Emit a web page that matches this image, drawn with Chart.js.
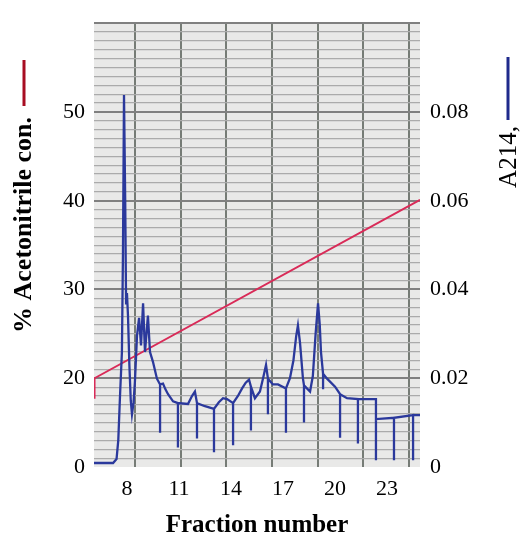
<!DOCTYPE html>
<html>
<head>
<meta charset="utf-8">
<script src="https://cdn.jsdelivr.net/npm/chart.js@4.4.0/dist/chart.umd.min.js"></script>
<style>
  html, body { margin: 0; padding: 0; background: #fff; }
  #wrap { width: 521px; height: 541px; }
</style>
</head>
<body>
<div id="wrap"><canvas id="chart"></canvas></div>
<script>
// tick labels
const fractionTicks = [8, 11, 14, 17, 20, 23];
const acnTickValues = [10, 20, 30, 40, 50];
const acnTickLabels = ['0', '20', '30', '40', '50'];
const a214Ticks = [0, 0.02, 0.04, 0.06, 0.08];

// acetonitrile gradient (% , left axis)
const gradientX = [6.1, 6.13, 24.9];
const gradientY = [17.8, 20, 40.1];

// A214 trace (right axis), vertical drops are the fraction marks
const traceX = [6.10, 7.20, 7.40, 7.50, 7.60, 7.71, 7.77, 7.83, 7.90, 7.95, 8.00, 8.06, 8.14, 8.22, 8.29, 8.38, 8.46, 8.58, 8.70,
  8.81, 8.93, 9.04, 9.21, 9.33, 9.50, 9.73, 9.91, 9.91, 9.91, 10.08, 10.22, 10.37, 10.66, 10.94, 10.94, 10.94,
  11.52, 11.75, 11.92, 12.04, 12.04, 12.04, 12.50, 13.02, 13.02, 13.02, 13.30, 13.54, 13.77, 14.12, 14.12, 14.12,
  14.40, 14.64, 14.85, 15.04, 15.15, 15.15, 15.15, 15.38, 15.67, 15.85, 16.02, 16.13, 16.13, 16.13, 16.42, 16.71, 17.17, 17.17, 17.17,
  17.40, 17.60, 17.76, 17.86, 17.98, 18.15, 18.21, 18.21, 18.21, 18.56, 18.72, 18.88, 19.02, 19.12, 19.19, 19.31, 19.31, 19.31, 19.54, 20.00,
  20.29, 20.29, 20.29, 20.69, 21.32, 21.32, 21.32, 22.36, 22.36, 22.36, 23.40, 23.40, 23.40, 24.50, 24.50, 24.50, 24.90];
const traceY = [0.0009, 0.0009, 0.0018, 0.0060, 0.0160, 0.0259, 0.0480, 0.0838, 0.0600, 0.0369, 0.0392, 0.0341, 0.0230, 0.0150, 0.0119, 0.0145, 0.0192, 0.0296, 0.0336,
  0.0274, 0.0369, 0.0259, 0.0341, 0.0259, 0.0237, 0.0199, 0.0186, 0.0077, 0.0186, 0.0188, 0.0175, 0.0164, 0.0148, 0.0144, 0.0044, 0.0144,
  0.0142, 0.0160, 0.0170, 0.0144, 0.0064, 0.0144, 0.0137, 0.0131, 0.0033, 0.0131, 0.0146, 0.0155, 0.0153, 0.0144, 0.0049, 0.0144,
  0.0160, 0.0177, 0.0190, 0.0197, 0.0181, 0.0082, 0.0181, 0.0155, 0.0170, 0.0200, 0.0230, 0.0199, 0.0119, 0.0199, 0.0186, 0.0186, 0.0177, 0.0077, 0.0177,
  0.0200, 0.0240, 0.0295, 0.0319, 0.0280, 0.0199, 0.0184, 0.0100, 0.0184, 0.0170, 0.0205, 0.0300, 0.0369, 0.0320, 0.0259, 0.0210, 0.0175, 0.0210, 0.0199, 0.0181,
  0.0164, 0.0066, 0.0164, 0.0155, 0.0153, 0.0053, 0.0153, 0.0153, 0.0015, 0.0108, 0.0111, 0.0015, 0.0111, 0.0117, 0.0015, 0.0117, 0.0117];

const serif = "'Liberation Serif', 'Times New Roman', serif";

// chart paper background + side labels with their colour bars
const paperPlugin = {
  id: 'paper',
  beforeDraw(chart) {
    const { ctx, chartArea: a } = chart;
    ctx.save();
    ctx.fillStyle = '#e9e9e8';
    ctx.fillRect(a.left, a.top, a.right - a.left, a.bottom - a.top);
    ctx.restore();
  },
  afterDraw(chart) {
    const ctx = chart.ctx;
    ctx.save();
    ctx.fillStyle = '#000';
    ctx.textAlign = 'center';
    ctx.textBaseline = 'middle';

    ctx.save();
    ctx.translate(24, 225);
    ctx.rotate(-Math.PI / 2);
    ctx.font = 'bold 26px ' + serif;
    ctx.fillText('% Acetonitrile con.', 0, 0);
    ctx.restore();

    ctx.save();
    ctx.translate(509, 157);
    ctx.rotate(-Math.PI / 2);
    ctx.font = '25px ' + serif;
    ctx.fillText('A214,', 0, 0);
    ctx.restore();

    ctx.fillStyle = '#a80d22';
    ctx.fillRect(22.5, 60, 3, 46);
    ctx.fillStyle = '#1f2a8c';
    ctx.fillRect(506.5, 57, 3, 63);
    ctx.restore();
  }
};

const ctx = document.getElementById('chart').getContext('2d');
new Chart(ctx, {
  type: 'line',
  data: {
    datasets: [
      {
        label: 'A214',
        data: traceX.map((x, i) => ({ x: x, y: traceY[i] })),
        yAxisID: 'yR',
        borderColor: '#2b399c',
        borderWidth: 2.3,
        pointRadius: 0,
        tension: 0
      },
      {
        label: '% Acetonitrile',
        data: gradientX.map((x, i) => ({ x: x, y: gradientY[i] })),
        yAxisID: 'yL',
        borderColor: '#d92b58',
        borderWidth: 2,
        pointRadius: 0,
        tension: 0
      }
    ]
  },
  options: {
    responsive: true,
    maintainAspectRatio: false,
    animation: false,
    layout: { padding: { top: 15, left: 0, right: 0, bottom: 0 } },
    plugins: {
      legend: { display: false },
      tooltip: { enabled: false }
    },
    scales: {
      x: {
        type: 'linear',
        min: 6.1,
        max: 24.9,
        afterBuildTicks: s => { s.ticks = fractionTicks.map(v => ({ value: v })); },
        afterFit: s => { s.height = 74; },
        grid: { display: false, drawTicks: false },
        border: { display: false },
        ticks: { color: '#000', padding: 9, font: { family: serif, size: 22 } },
        title: {
          display: true,
          text: 'Fraction number',
          color: '#000',
          padding: { top: 6, bottom: 0 },
          font: { family: serif, size: 25, weight: 'bold' }
        }
      },
      yL: {
        type: 'linear',
        position: 'left',
        min: 10,
        max: 60,
        afterBuildTicks: s => { s.ticks = acnTickValues.map(v => ({ value: v })); },
        afterFit: s => { s.width = 94; },
        grid: { display: false, drawTicks: false },
        border: { display: false },
        ticks: {
          color: '#000',
          padding: 9,
          font: { family: serif, size: 22 },
          callback: v => acnTickLabels[acnTickValues.indexOf(v)]
        }
      },
      yR: {
        type: 'linear',
        position: 'right',
        min: 0,
        max: 0.1,
        afterBuildTicks: s => { s.ticks = a214Ticks.map(v => ({ value: v })); },
        afterFit: s => { s.width = 101; },
        grid: { display: false, drawTicks: false },
        border: { display: false },
        ticks: {
          color: '#000',
          padding: 10,
          font: { family: serif, size: 22 },
          callback: v => (v === 0 ? '0' : v.toFixed(2))
        }
      },
      // chart paper ruling
      paperX: {
        type: 'linear',
        position: 'top',
        min: -0.898,
        max: 6.24,
        afterBuildTicks: s => { s.ticks = [0, 1, 2, 3, 4, 5, 6].map(v => ({ value: v })); },
        afterFit: s => { s.height = 0; },
        grid: { color: '#767c76', lineWidth: 2, drawTicks: false },
        border: { display: false },
        ticks: { display: false }
      },
      paperY: {
        type: 'linear',
        position: 'right',
        min: 0,
        max: 50,
        afterBuildTicks: s => {
          const t = [];
          for (let i = 1; i <= 50; i++) t.push({ value: i });
          s.ticks = t;
        },
        afterFit: s => { s.width = 0; },
        grid: {
          color: c => (c.tick && c.tick.value % 10 === 0 ? '#808080' : '#ababab'),
          lineWidth: c => (c.tick && c.tick.value % 10 === 0 ? 2 : 1.2),
          drawTicks: false
        },
        border: { display: false },
        ticks: { display: false }
      }
    }
  },
  plugins: [paperPlugin]
});
</script>
</body>
</html>
